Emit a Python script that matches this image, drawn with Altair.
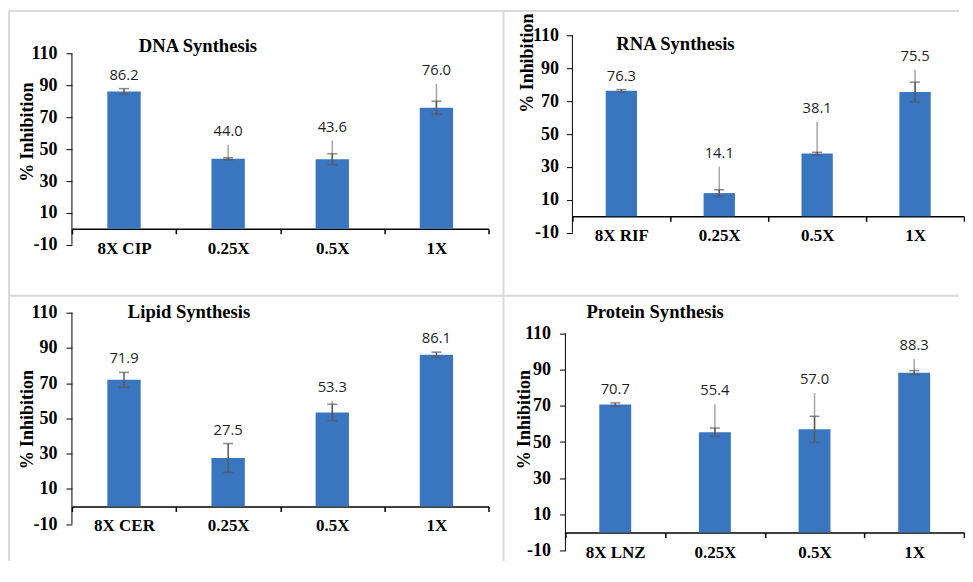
import altair as alt
import pandas as pd

# ---------------- data ----------------
dna_cats = ["8X CIP", "0.25X", "0.5X", "1X"]
dna_vals = [86.2, 44.0, 43.6, 76.0]
dna_sd = [1.8, 0.6, 3.5, 4.1]
dna_upper = [None, 52.6, 55.3, 91.0]

rna_cats = ["8X RIF", "0.25X", "0.5X", "1X"]
rna_vals = [76.3, 14.1, 38.1, 75.5]
rna_sd = [0.7, 2.0, 0.8, 6.0]
rna_upper = [None, 30.2, 57.3, 89.0]

lipid_cats = ["8X CER", "0.25X", "0.5X", "1X"]
lipid_vals = [71.9, 27.5, 53.3, 86.1]
lipid_sd = [4.2, 8.2, 4.7, 1.5]
lipid_upper = [None, None, 59.9, None]

protein_cats = ["8X LNZ", "0.25X", "0.5X", "1X"]
protein_vals = [70.7, 55.4, 57.0, 88.3]
protein_sd = [0.9, 2.3, 7.2, 1.1]
protein_upper = [None, 70.9, 77.1, 95.8]

y_ticks = [-10, 10, 30, 50, 70, 90, 110]

# ---------------- style ----------------
BAR = "#3a75bf"
DARK = "#595959"
LIGHT = "#a6a6a6"
FRAME = "#d9d9d9"
SERIF = "Liberation Serif"
SANS = "Open Sans"


def panel(title, cats, vals, sd, upper, width, height, ymax, x0,
          title_dx, title_dy, ytitle_x, ytitle_y, ylabel_pad, frame=False):
    df = pd.DataFrame({
        "cat": cats,
        "val": vals,
        "lo": [v - s for v, s in zip(vals, sd)],
        "hi": [v + s for v, s in zip(vals, sd)],
        "up": [u if u is not None else v for u, v in zip(upper, vals)],
    })
    df["top"] = df[["hi", "up"]].max(axis=1)

    xoff = -height * 10 / (ymax + 10)
    x = alt.X(
        "cat:N", sort=cats, title=None,
        scale=alt.Scale(range=[x0, width], paddingInner=0, paddingOuter=0),
        axis=alt.Axis(tickBand="extent", labelAngle=0, offset=xoff,
                      domainColor="black", domainWidth=1.5,
                      tickColor="black", tickWidth=1.5, tickSize=5,
                      labelPadding=6.5, labelFont=SERIF, labelFontSize=17,
                      labelFontWeight="bold", labelColor="black"),
    )
    yscale = alt.Scale(domain=[-10, ymax], nice=False, zero=False)
    yaxis = alt.Axis(values=y_ticks, tickCount=20, domain=False, grid=False,
                     tickSize=6, tickColor="black", tickWidth=1, offset=-x0,
                     labelOverlap=False, labelExpr="'' + datum.value",
                     labelPadding=ylabel_pad, labelFont=SERIF, labelFontSize=18,
                     labelFontWeight="bold", labelColor="black",
                     titleX=ytitle_x, titleY=ytitle_y, titleAngle=270,
                     titleAlign="center", titleBaseline="alphabetic",
                     titleFont=SERIF, titleFontSize=18, titleFontWeight="bold",
                     titleColor="black")

    def Y(field):
        return alt.Y(field, scale=yscale, axis=yaxis, title="% Inhibition")

    base = alt.Chart(df)
    bars = base.mark_bar(color=BAR, width={"band": 0.32}).encode(
        x=x, y=Y("val:Q"), y2=alt.datum(0))
    light = base.transform_filter("datum.up > datum.hi").mark_rule(
        color=LIGHT, strokeWidth=1.5).encode(x=x, y=Y("val:Q"), y2="up:Q")
    err = base.mark_rule(color=DARK, strokeWidth=1.5).encode(
        x=x, y=Y("lo:Q"), y2="hi:Q")
    cap_lo = base.mark_tick(color=DARK, size=10, thickness=1.5).encode(
        x=x, y=Y("lo:Q"))
    cap_hi = base.mark_tick(color=DARK, size=10, thickness=1.5).encode(
        x=x, y=Y("hi:Q"))
    labels = base.mark_text(dy=-13, baseline="middle", font=SANS,
                            fontSize=14.8, color="#1f1f1f").encode(
        x=x, y=Y("top:Q"), text=alt.Text("val:Q", format=".1f"))

    one = pd.DataFrame({"k": [0]})
    yline = alt.Chart(one).mark_rule(color="black", strokeWidth=1).encode(
        x=alt.value(x0), y=alt.datum(-10), y2=alt.datum(110))
    ttl = alt.Chart(one).mark_text(
        text=title, align="left", baseline="alphabetic", font=SERIF,
        fontSize=18.6, fontWeight="bold", color="black").encode(
        x=alt.value(title_dx), y=alt.value(title_dy))

    layers = [bars, light, err, cap_lo, cap_hi, labels, yline, ttl]

    if frame:
        L, R, T, B = -63, 888, -24.3, 526
        segs = [
            (L, R, T, T),          # top border
            (L, L, T, B),          # left border
            (432, 432, T, B),      # vertical divider
            (L, R, 260.7, 260.7),  # horizontal divider
        ]
        for (a, b, c, d) in segs:
            layers.append(
                alt.Chart(one).mark_rule(color=FRAME, strokeWidth=2).encode(
                    x=alt.value(a), x2=alt.value(b),
                    y=alt.value(c), y2=alt.value(d)))

    return alt.layer(*layers).properties(width=width, height=height)


dna = panel("DNA Synthesis", dna_cats, dna_vals, dna_sd, dna_upper,
            417, 209.7, 121.5, 0, 67, 16.4, -39, 96.5, 9, frame=True)
rna = panel("RNA Synthesis", rna_cats, rna_vals, rna_sd, rna_upper,
            399, 197.7, 110, 7, 51, 15, -40, 27.4, 8)
lipid = panel("Lipid Synthesis", lipid_cats, lipid_vals, lipid_sd, lipid_upper,
              417, 211.6, 110, 0, 56, 5, -39, 106.6, 9)
protein = panel("Protein Synthesis", protein_cats, protein_vals, protein_sd,
                protein_upper, 399, 238.3, 121.4, 0, 21, 5, -36, 106.6, 9)

chart = alt.concat(
    dna, rna, lipid, protein, columns=2,
    spacing={"row": 67.7, "column": 77}, bounds="flush", align="each",
).properties(
    padding={"left": 0, "top": 1, "right": 0, "bottom": 0},
).configure_view(strokeWidth=0)

chart.save("out.html", embed_options={"renderer": "svg", "actions": False})
